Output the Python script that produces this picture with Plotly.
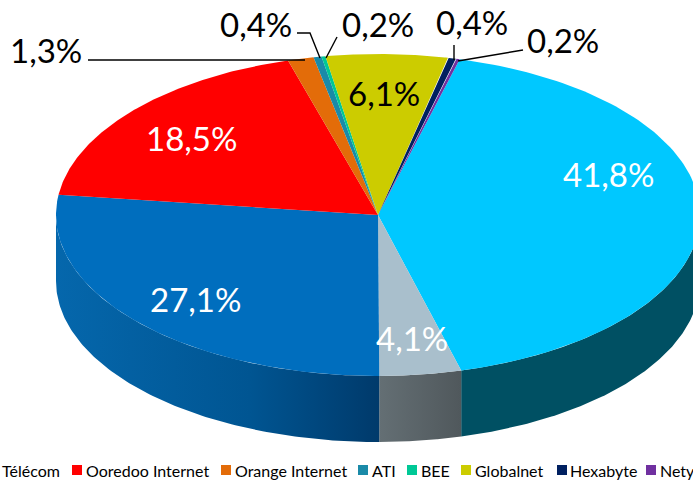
import numpy as np
import plotly.graph_objects as go

# Slice data, clockwise from the first slice
slice_names = ["Tunisie Télécom", "Divona", "Topnet", "Ooredoo Internet", "Orange Internet",
               "ATI", "BEE", "Globalnet", "Hexabyte", "Nety"]
slice_values = [41.8, 4.1, 27.1, 18.5, 1.3, 0.4, 0.2, 6.1, 0.4, 0.2]
slice_labels = ["41,8%", "4,1%", "27,1%", "18,5%", "1,3%", "0,4%", "0,2%", "6,1%", "0,4%", "0,2%"]
top_colors = ["#00C8FF", "#A9BFCC", "#006EBE", "#FF0000", "#E36C09",
              "#1A8AA8", "#00C896", "#CCCC00", "#002060", "#7030A0"]
legend_names = ["Ooredoo Internet", "Orange Internet", "ATI", "BEE", "Globalnet", "Hexabyte", "Nety"]

CX, CY, RX, RY, DEPTH = 378, 215, 322, 161, 66
START = 14.7
FONT = "Lato, Carlito, Calibri, sans-serif"

fracs = np.array(slice_values) / sum(slice_values)
edges = START + 360 * np.concatenate([[0], np.cumsum(fracs)])


def arc(a0, a1, n=120):
    t = np.radians(np.linspace(a0, a1, n))
    return CX + RX * np.sin(t), CY - RY * np.cos(t)


fig = go.Figure()

# Side walls: only the front half (90..270 degrees) is visible
walls = [
    (90, edges[1], dict(color="#005063"), None),
    (edges[1], edges[2], None, [[0, "#646F74"], [1, "#50585C"]]),
    (edges[2], 270, None, [[0, "#0567AC"], [0.6, "#005592"], [1, "#003A6B"]]),
]
for a0, a1, line, scale in walls:
    x, y = arc(a0, a1)
    px = np.concatenate([x, x[::-1], x[:1]])
    py = np.concatenate([y, y[::-1] + DEPTH, y[:1]])
    kw = dict(fillgradient=dict(type="horizontal", colorscale=scale)) if scale else dict(fillcolor=line["color"])
    fig.add_trace(go.Scatter(x=px, y=py, mode="lines", fill="toself", line=dict(width=0),
                             hoverinfo="skip", showlegend=False, **kw))

# Top faces
for i, name in enumerate(slice_names):
    x, y = arc(edges[i], edges[i + 1])
    fig.add_trace(go.Scatter(x=np.r_[CX, x, CX], y=np.r_[CY, y, CY], mode="lines", fill="toself",
                             fillcolor=top_colors[i], line=dict(width=0), name=name,
                             hoverinfo="name", showlegend=False))

# Leader lines
leaders = [
    [(88, 60), (305, 60)],
    [(297, 33), (310, 33), (320, 58)],
    [(337, 37), (326, 58)],
    [(454, 45), (454, 60)],
    [(458, 61), (523, 50)],
]
for pts in leaders:
    fig.add_trace(go.Scatter(x=[p[0] for p in pts], y=[p[1] for p in pts], mode="lines",
                             line=dict(color="#000000", width=1.4), hoverinfo="skip", showlegend=False))

# Data labels
label_pos = [(608, 174), (412, 338), (195, 299), (191, 138), (46, 50), (256, 24), (378, 24), (384, 93), (472, 22), (563, 40)]
label_col = ["white", "white", "white", "white", "black", "black", "black", "black", "black", "black"]
for txt, (lx, ly), c in zip(slice_labels, label_pos, label_col):
    fig.add_annotation(x=lx, y=ly, text=txt, showarrow=False, font=dict(family=FONT, size=33, color=c))

# Legend row, cropped at the left as in the picture
legend_marker_x = [77, 226, 363, 412, 466, 562, 651]
legend_text_x = [84, 233, 370, 419, 473, 568, 658]
fig.add_annotation(x=0, y=470, text="Télécom", xanchor="left", showarrow=False,
                   font=dict(family=FONT, size=16, color="#000000"))
for name, mx, tx, c in zip(legend_names, legend_marker_x, legend_text_x, top_colors[3:]):
    fig.add_trace(go.Scatter(x=[mx], y=[470], mode="markers", marker=dict(symbol="square", size=10, color=c),
                             hoverinfo="skip", showlegend=False))
    fig.add_annotation(x=tx, y=470, text=name, xanchor="left", showarrow=False,
                       font=dict(family=FONT, size=16, color="#000000"))

fig.update_layout(
    width=693, height=481, margin=dict(l=0, r=0, t=0, b=0),
    paper_bgcolor="white", plot_bgcolor="white",
    xaxis=dict(range=[0, 693], visible=False, fixedrange=True),
    yaxis=dict(range=[481, 0], visible=False, fixedrange=True),
)
fig.write_html("out.html", config=dict(displayModeBar=False),
               post_script="document.body.style.margin='0';document.body.style.overflow='hidden';")
